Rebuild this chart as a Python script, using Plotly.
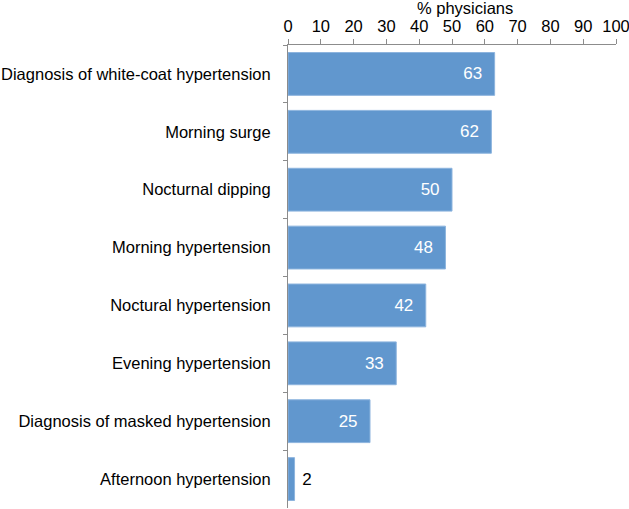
import plotly.graph_objects as go

categories = [
    "Diagnosis of white-coat hypertension",
    "Morning surge",
    "Nocturnal dipping",
    "Morning hypertension",
    "Noctural hypertension",
    "Evening hypertension",
    "Diagnosis of masked hypertension",
    "Afternoon hypertension",
]
values = [63, 62, 50, 48, 42, 33, 25, 2]
x_ticks = [0, 10, 20, 30, 40, 50, 60, 70, 80, 90, 100]
x_title = "% physicians"

positions = ["inside" if v > 5 else "outside" for v in values]
labels = [f"{v}  " if p == "inside" else f" {v}" for v, p in zip(values, positions)]

fig = go.Figure(go.Bar(
    y=categories,
    x=values,
    orientation="h",
    marker=dict(color="#6197CE", line=dict(color="#8DB4DE", width=1)),
    text=labels,
    textposition=positions,
    insidetextanchor="end",
    insidetextfont=dict(color="white", size=17, family="Liberation Sans, Arial"),
    outsidetextfont=dict(color="black", size=17, family="Liberation Sans, Arial"),
    cliponaxis=False,
    hoverinfo="skip",
))

fig.update_layout(
    width=629, height=509,
    margin=dict(l=288, r=13, t=45, b=1),
    paper_bgcolor="white",
    plot_bgcolor="white",
    bargap=0.26,
    showlegend=False,
    font=dict(family="Liberation Sans, Arial", color="black"),
    xaxis=dict(
        side="top",
        range=[0, 100],
        tickvals=x_ticks,
        ticks="outside",
        ticklen=5,
        tickcolor="#8C8C8C",
        showline=True,
        linecolor="#8C8C8C",
        linewidth=1,
        showgrid=False,
        zeroline=False,
        automargin=False,
        ticklabeloverflow="allow",
        tickfont=dict(size=16.5),
    ),
    yaxis=dict(
        autorange="reversed",
        ticks="outside",
        tickson="boundaries",
        ticklen=4,
        tickcolor="#8C8C8C",
        showline=True,
        linecolor="#8C8C8C",
        linewidth=1,
        showgrid=False,
        automargin=False,
        tickfont=dict(size=16.5),
        ticklabelstandoff=13,
    ),
    annotations=[dict(
        text=x_title,
        xref="paper", yref="paper",
        x=0.54, y=1,
        xanchor="center", yanchor="middle",
        yshift=37,
        showarrow=False,
        font=dict(size=16.5),
    )],
)

fig.write_html(
    "out.html",
    config={"displayModeBar": False},
    post_script="document.body.style.margin='0';document.body.style.overflow='hidden';",
)
